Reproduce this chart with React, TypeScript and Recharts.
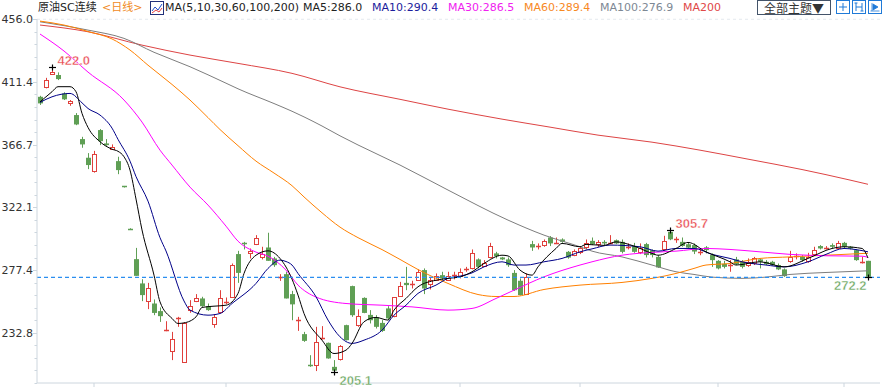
import { Bar, ComposedChart, Line, ReferenceDot, ReferenceLine, XAxis, YAxis } from 'recharts'

// daily candles, oldest first
const opens = [
  400.8, 407.9, 417.5, 416.3, 403.2, 396.1, 387.8, 370.7, 357.4, 347.4,
  377.1, 367.6, 364.0, 355.0, 337.0, 306.9, 285.2, 267.9, 255.3, 253.6,
  248.2, 234.4, 219.2, 242.8, 212.3, 248.9, 254.8, 257.2, 251.7, 238.4,
  246.9, 254.5, 258.4, 288.8, 296.4, 289.3, 295.7, 286.4, 293.5, 285.7,
  272.4, 274.5, 260.3, 241.4, 231.8, 209.6, 209.2, 229.0, 225.6, 208.5,
  213.8, 238.2, 266.0, 238.2, 257.6, 245.5, 243.7, 239.8, 250.1, 244.1,
  258.8, 268.3, 267.2, 270.8, 277.4, 267.4, 270.3, 273.8, 270.3, 273.6,
  273.1, 277.7, 278.6, 285.0, 280.2, 286.8, 289.3, 286.4, 285.0, 275.4,
  269.8, 260.3, 295.9, 294.3, 295.2, 300.6, 296.6, 299.2, 290.4, 288.4,
  290.4, 293.5, 298.2, 295.9, 297.5, 296.6, 298.7, 297.5, 293.8, 294.5,
  289.7, 295.9, 291.6, 286.8, 292.1, 304.6, 299.0, 297.5, 295.8, 295.2,
  290.0, 293.6, 288.1, 284.0, 281.9, 280.8, 285.0, 283.3, 281.0, 282.1,
  285.0, 283.3, 283.3, 281.0, 277.9, 283.3, 287.1, 286.8, 283.3, 288.8,
  294.5, 293.0, 295.2, 293.5, 296.8, 294.0, 291.6, 283.1, 284.0,
]
const highs = [
  401.5, 414.3, 422.0, 418.2, 404.0, 398.5, 389.2, 372.3, 360.7, 362.3,
  377.8, 370.7, 366.9, 358.1, 337.3, 307.2, 293.2, 270.9, 268.3, 256.5,
  250.8, 241.0, 233.4, 244.1, 240.2, 256.0, 260.3, 258.4, 253.6, 246.0,
  263.1, 257.9, 282.1, 291.1, 297.5, 292.8, 302.3, 294.0, 304.0, 286.8,
  274.5, 276.2, 262.6, 244.1, 233.4, 216.8, 237.0, 237.5, 225.8, 213.3,
  224.0, 238.5, 266.3, 249.4, 258.0, 248.9, 245.3, 241.8, 251.7, 258.2,
  269.0, 279.7, 269.8, 277.9, 278.6, 272.6, 275.0, 276.2, 276.2, 276.2,
  278.6, 279.7, 292.1, 285.7, 284.5, 296.8, 290.4, 286.8, 286.4, 277.4,
  271.5, 275.0, 298.2, 296.4, 299.2, 301.6, 300.6, 300.0, 291.0, 292.1,
  294.5, 299.2, 300.6, 298.7, 298.7, 302.3, 299.2, 299.2, 296.4, 296.8,
  296.4, 296.8, 292.1, 288.0, 301.8, 305.7, 301.1, 300.6, 296.8, 296.4,
  292.8, 294.5, 289.3, 284.5, 284.0, 284.5, 286.8, 284.5, 285.7, 286.8,
  285.7, 284.5, 284.0, 282.1, 278.6, 291.1, 289.3, 288.0, 289.7, 294.0,
  295.2, 294.5, 296.4, 298.2, 297.5, 294.5, 292.1, 286.8, 284.0,
]
const lows = [
  395.0, 406.8, 416.5, 412.7, 398.5, 394.4, 380.6, 364.5, 349.3, 346.8,
  366.4, 365.9, 363.3, 345.7, 336.2, 306.0, 273.3, 255.3, 249.6, 245.3,
  240.5, 233.9, 213.3, 237.0, 212.0, 247.0, 254.6, 251.2, 248.4, 236.3,
  246.5, 253.2, 257.9, 268.3, 292.1, 285.7, 295.2, 285.0, 284.0, 279.7,
  269.7, 257.2, 241.7, 234.1, 226.3, 208.5, 205.5, 228.0, 214.3, 205.1,
  213.0, 227.3, 244.1, 237.0, 246.7, 239.4, 235.8, 233.4, 241.8, 243.8,
  258.6, 263.1, 264.3, 269.8, 260.3, 263.6, 269.8, 269.8, 269.8, 270.8,
  271.5, 276.2, 277.9, 278.6, 279.7, 285.7, 285.7, 284.5, 279.7, 262.6,
  259.4, 259.6, 291.1, 292.1, 294.0, 294.5, 295.9, 296.8, 285.5, 287.3,
  288.8, 292.1, 295.2, 293.9, 295.2, 295.9, 295.9, 289.3, 292.1, 289.7,
  288.8, 286.4, 286.4, 279.0, 291.1, 298.7, 296.8, 294.0, 292.8, 288.8,
  288.0, 289.3, 279.7, 277.9, 278.6, 276.2, 281.0, 278.6, 279.7, 281.0,
  278.6, 281.0, 280.5, 277.4, 272.6, 282.6, 285.0, 283.3, 282.6, 288.0,
  292.1, 292.1, 292.8, 292.8, 292.8, 292.1, 284.0, 282.1, 272.2,
]
const closes = [
  396.1, 412.7, 418.6, 413.4, 399.0, 397.7, 381.1, 366.9, 352.2, 359.8,
  369.2, 366.4, 365.2, 348.6, 336.4, 306.3, 273.3, 259.6, 264.8, 246.9,
  244.6, 234.8, 228.0, 243.2, 239.8, 251.7, 257.2, 251.7, 248.9, 243.7,
  257.2, 255.0, 280.9, 275.4, 295.7, 290.9, 300.0, 288.8, 284.0, 280.9,
  272.8, 257.2, 253.0, 241.8, 227.0, 209.0, 225.9, 229.4, 214.5, 205.8,
  223.2, 227.5, 245.3, 244.8, 246.9, 241.7, 237.0, 234.1, 243.0, 257.9,
  266.0, 266.7, 267.6, 276.2, 264.3, 270.3, 273.1, 271.5, 273.1, 274.0,
  276.2, 278.1, 289.3, 279.7, 282.6, 294.5, 287.3, 285.0, 280.9, 263.1,
  259.6, 272.6, 293.5, 294.7, 298.2, 296.4, 297.0, 297.5, 286.3, 291.3,
  293.2, 296.4, 295.9, 297.5, 296.4, 297.0, 296.4, 290.4, 294.2, 290.4,
  292.8, 288.1, 288.1, 279.3, 298.1, 299.3, 299.4, 294.6, 293.4, 290.6,
  290.4, 291.6, 284.5, 278.6, 279.7, 281.2, 281.6, 279.7, 283.3, 285.7,
  283.3, 281.6, 281.0, 277.9, 273.1, 286.4, 287.5, 284.5, 286.4, 291.6,
  292.8, 293.4, 294.0, 296.8, 294.0, 292.8, 284.5, 283.5, 272.6,
]

// moving averages as [candle index, value]
const ma5Pts: [number, number][] = [
  [0, 397.2], [2, 404.4], [3, 408.0], [5, 408.0], [6, 404.4], [7, 389.0], [8, 379.0], [10, 368.8], [12, 363.5], [13, 362.0],
  [14, 358.1], [15, 348.6], [16, 328.0], [17, 306.0], [19, 273.8], [20, 254.8], [22, 243.0], [23, 239.4], [24, 239.8], [26, 244.1],
  [27, 250.8], [29, 251.7], [31, 252.4], [33, 260.8], [34, 275.0], [36, 288.0], [38, 291.1], [40, 285.7], [42, 271.0], [43, 259.6],
  [44, 246.5], [47, 227.5], [49, 218.0], [51, 220.4], [52, 225.2], [54, 240.6], [56, 243.7], [58, 241.8], [59, 248.9], [61, 257.2],
  [63, 265.5], [66, 270.2], [68, 271.5], [70, 272.6], [72, 276.2], [74, 282.1], [77, 288.0], [78, 287.5], [80, 277.4], [82, 273.8],
  [83, 279.7], [86, 292.8], [87, 296.4], [90, 294.0], [91, 295.7], [94, 295.0], [96, 297.5], [99, 294.5], [102, 289.3], [103, 288.0],
  [106, 292.8], [108, 297.1], [111, 290.4], [115, 283.3], [116, 281.0], [120, 283.3], [124, 279.7], [128, 285.7], [132, 292.8], [134, 294.0],
  [137, 292.8], [138, 286.0],
]
const ma10Pts: [number, number][] = [
  [0, 396.8], [2, 400.8], [5, 403.2], [7, 396.5], [8, 392.5], [10, 387.8], [12, 378.5], [13, 370.5], [15, 355.0], [16, 344.0],
  [18, 326.5], [20, 300.5], [21, 291.0], [24, 255.4], [25, 248.9], [28, 245.3], [30, 246.5], [32, 253.6], [36, 267.9], [38, 278.6],
  [40, 284.5], [41, 283.5], [42, 281.0], [43, 275.0], [46, 258.4], [48, 241.8], [50, 229.9], [52, 225.2], [54, 227.5], [57, 234.6],
  [59, 245.3], [61, 252.4], [63, 260.8], [66, 266.7], [68, 271.5], [70, 273.1], [72, 275.4], [74, 279.7], [77, 283.3], [79, 281.0],
  [81, 281.0], [84, 283.3], [87, 285.7], [90, 290.4], [92, 292.5], [95, 295.2], [100, 294.0], [103, 290.9], [106, 292.8], [109, 292.8],
  [112, 288.6], [115, 285.7], [117, 283.3], [121, 281.0], [124, 279.7], [128, 283.3], [131, 288.6], [134, 292.8], [136, 292.0], [138, 290.4],
]
const ma30Pts: [number, number][] = [
  [0, 445.5], [4, 433.4], [8, 418.4], [14, 398.5], [17, 382.8], [20, 362.8], [22, 352.2], [25, 336.5], [28, 323.7], [31, 308.7],
  [33, 298.0], [36, 290.2], [38, 287.3], [41, 277.4], [43, 266.7], [46, 258.2], [51, 253.6], [57, 252.4], [62, 251.2], [68, 248.9],
  [72, 250.1], [76, 257.2], [79, 263.1], [84, 272.6], [90, 281.0], [92, 283.3], [97, 288.0], [102, 290.0], [106, 290.9], [111, 292.8],
  [115, 292.1], [120, 290.4], [125, 288.6], [131, 287.6], [137, 287.3], [138, 286.5],
]
const ma60Pts: [number, number][] = [
  [0, 454.7], [4, 451.9], [8, 447.3], [12, 442.0], [15, 434.1], [18, 423.3], [22, 409.6], [25, 398.5], [28, 386.0], [30, 377.5],
  [33, 366.0], [36, 355.0], [39, 346.5], [42, 337.5], [44, 329.5], [47, 318.2], [50, 308.0], [53, 300.5], [57, 292.0], [60, 285.0],
  [63, 277.8], [68, 267.9], [73, 260.0], [76, 258.6], [79, 258.6], [84, 263.6], [90, 266.7], [97, 268.6], [102, 271.5], [106, 275.0],
  [109, 278.6], [111, 281.0], [115, 282.1], [120, 285.7], [125, 286.8], [131, 288.0], [138, 289.4],
]
const ma100Pts: [number, number][] = [
  [0, 454.2], [8, 448.3], [14, 442.4], [19, 432.5], [25, 422.2], [31, 410.5], [33, 406.5], [39, 396.0], [42, 390.5], [44, 386.5],
  [47, 380.0], [50, 373.0], [53, 366.5], [60, 352.2], [68, 334.4], [78, 313.0], [84, 302.3], [90, 294.0], [92, 290.9], [97, 286.8],
  [102, 281.0], [106, 276.2], [109, 274.3], [112, 272.4], [117, 271.5], [121, 272.4], [125, 274.3], [131, 275.7], [138, 276.9],
]
const ma200Pts: [number, number][] = [
  [0, 451.9], [8, 447.1], [17, 437.6], [25, 430.5], [33, 424.6], [42, 417.5], [50, 407.9], [60, 399.0], [68, 392.0], [77, 384.9],
  [85, 379.2], [93, 373.5], [102, 368.5], [110, 362.8], [118, 356.4], [127, 349.0], [135, 341.5], [138, 338.5],
]

const yTicks = [232.8, 277.4, 322.1, 366.7, 411.4, 456.0]
const monthTicks = [9, 31, 52, 70, 90, 113, 134]
const lastPrice = 272.2
const marks = [
  { i: 2, value: 422.0, kind: 'high' },
  { i: 49, value: 205.1, kind: 'low' },
  { i: 105, value: 305.7, kind: 'high' },
  { i: 138, value: 272.2, kind: 'lowEnd' },
]

const RED = '#e0403c'
const GREEN = '#5f9f55'
const AXIS = '#cdd6de'
const maLines = [
  { key: 'ma200', pts: ma200Pts, color: '#dd4444' },
  { key: 'ma100', pts: ma100Pts, color: '#7d7d7d' },
  { key: 'ma60', pts: ma60Pts, color: '#ff8000' },
  { key: 'ma30', pts: ma30Pts, color: '#ff00ff' },
  { key: 'ma10', pts: ma10Pts, color: '#000088' },
  { key: 'ma5', pts: ma5Pts, color: '#000000' },
]

const data = opens.map((open, i) => {
  const row: Record<string, any> = { i, open, high: highs[i], low: lows[i], close: closes[i], range: [lows[i], highs[i]] }
  maLines.forEach(m => { row[m.key] = null })
  return row
})
maLines.forEach(m => m.pts.forEach(([i, v]) => { data[i][m.key] = v }))

// five minor steps between labelled ticks, continued below the lowest label
const axisTicks: number[] = []
yTicks.forEach((t, k) => {
  const next = yTicks[k + 1]
  const step = ((next ?? t + (yTicks[1] - yTicks[0])) - t) / 5
  for (let j = 0; j < (next === undefined ? 1 : 5); j++) axisTicks.push(+(t + j * step).toFixed(3))
  if (k === 0) for (let j = 1; j <= 4; j++) axisTicks.push(+(t - j * step).toFixed(3))
})

const last = (pts: [number, number][]) => pts[pts.length - 1][1].toFixed(1)

function Candle(props: any) {
  const { x, y, width, height, payload } = props
  const { open, close, high, low } = payload
  const up = close >= open
  const color = up ? RED : GREEN
  const k = height / (high - low || 1)
  const py = (v: number) => y + (high - v) * k
  const cx = Math.floor(x + width / 2) + 0.5
  const top = py(Math.max(open, close))
  const bot = py(Math.min(open, close))
  const flat = bot - top < 1.5
  return <g>
    <line x1={cx} x2={cx} y1={py(high)} y2={py(low)} stroke={color} strokeWidth={1} />
    {flat
      ? <line x1={cx - 2.5} x2={cx + 2.5} y1={Math.round(top) + 0.5} y2={Math.round(top) + 0.5} stroke={color} strokeWidth={1.5} />
      : up
        ? <rect x={cx - 2} y={Math.round(top) + 0.5} width={4} height={Math.max(1, Math.round(bot - top))} fill="#fff" stroke={color} strokeWidth={1} />
        : <rect x={cx - 2.5} y={top} width={5} height={bot - top} fill={color} />}
  </g>
}

function YTick({ x, y, payload }: any) {
  const major = yTicks.find(t => Math.abs(t - payload.value) < 0.01)
  const yy = Math.round(y) + 0.5
  return <g>
    <line x1={x - (major !== undefined ? 4 : 2.5)} x2={x} y1={yy} y2={yy} stroke={AXIS} />
    {major !== undefined && <text x={x - 4} y={y + 4} textAnchor="end" fontSize={11} fontFamily="DejaVu Sans" fill="#333">{major.toFixed(1)}</text>}
  </g>
}

const NoLabel = () => <g />

function Mark({ cx, cy, mark }: any) {
  const high = mark.kind === 'high'
  const x = Math.round(cx) + 0.5
  const y = Math.round(cy) + 0.5
  return <g>
    <line x1={x - 3.5} x2={x + 3.5} y1={y} y2={y} stroke="#000" strokeWidth={1.2} />
    <line x1={x} x2={x} y1={y - 3} y2={y + 3} stroke="#000" strokeWidth={1.2} />
    <text x={mark.kind === 'lowEnd' ? x - 2 : x + 5} y={high ? y - 3 : y + 12.5} textAnchor={mark.kind === 'lowEnd' ? 'end' : 'start'}
      fontSize={13} fontWeight="bold" fontFamily="Liberation Sans" fill={high ? '#e8494d' : '#67a45c'} stroke="#fff" strokeWidth={0.4}>{mark.value.toFixed(1)}</text>
  </g>
}

const header = [
  { x: 38, text: '原油SC连续', color: '#222' },
  { x: 102, text: '<日线>', color: '#f08a24' },
  { x: 165, text: 'MA(5,10,30,60,100,200)', color: '#222' },
  { x: 303, text: `MA5:${last(ma5Pts)}`, color: '#222' },
  { x: 372, text: `MA10:${last(ma10Pts)}`, color: '#1c1c9c' },
  { x: 448, text: `MA30:${last(ma30Pts)}`, color: '#f020f0' },
  { x: 524, text: `MA60:${last(ma60Pts)}`, color: '#f7891f' },
  { x: 600, text: `MA100:${last(ma100Pts)}`, color: '#7d8894' },
  { x: 683, text: 'MA200', color: '#e04848' },
]

function IconBox({ x, children }: { x: number; children: any }) {
  return <svg style={{ position: 'absolute', left: x, top: 0 }} width={14} height={14}>
    <rect x={0.5} y={0.5} width={13} height={13} fill="#fff" stroke="#1f7ad8" />
    {children}
  </svg>
}

export default function App() {
  return <div style={{ position: 'absolute', left: 0, top: 0, width: 883, height: 387, background: '#fff', overflow: 'hidden' }}>
    <ComposedChart width={883} height={387} data={data} margin={{ top: 19, right: 3, bottom: 0, left: 0 }}>
      <XAxis dataKey="i" type="category" ticks={monthTicks} interval={0} height={4} tickSize={4} tick={<NoLabel />}
        padding={{ left: 0, right: 9 }} axisLine={{ stroke: AXIS }} tickLine={{ stroke: AXIS }} />
      <YAxis type="number" domain={[197, 456.2]} ticks={axisTicks} interval={0} width={37} tickSize={0} tickMargin={0}
        tick={<YTick />} tickLine={false} axisLine={{ stroke: AXIS }} allowDataOverflow />
      <ReferenceLine y={456.0} stroke="#e4e9ee" strokeDasharray="3 3" />
      <Bar dataKey="range" barSize={5} shape={<Candle />} isAnimationActive={false} />
      {maLines.map(m => <Line key={m.key} dataKey={m.key} stroke={m.color} strokeWidth={1} dot={false} activeDot={false}
        connectNulls type="monotone" isAnimationActive={false} />)}
      <ReferenceLine y={lastPrice} stroke="#2b8ef0" strokeDasharray="4 3" strokeWidth={1.2} />
      {marks.map(m => <ReferenceDot key={m.i} x={m.i} y={m.value} r={0} shape={(p: any) => <Mark {...p} mark={m} />} />)}
    </ComposedChart>

    {header.map(h => <span key={h.x} style={{ position: 'absolute', left: h.x, top: 0, lineHeight: '16px', fontSize: 11,
      fontFamily: '"DejaVu Sans", "Noto Sans CJK SC"', color: h.color, whiteSpace: 'nowrap' }}>{h.text}</span>)}
    <svg style={{ position: 'absolute', left: 150, top: 1 }} width={14} height={14}>
      <rect x={0.5} y={0.5} width={13} height={13} fill="#fff" stroke="#22307a" />
      <polyline points="2,10 5,6 8,9 12,3" fill="none" stroke="#2250c8" />
      <polyline points="2,12 6,9 9,11 12,7" fill="none" stroke="#e04040" />
    </svg>
    <div style={{ position: 'absolute', left: 757, top: 0, width: 72, height: 13, border: '1px solid #44546a', fontSize: 12, lineHeight: '13px',
      textAlign: 'center', fontFamily: '"Noto Sans CJK SC"', color: '#333' }}>全部主题▼</div>
    <IconBox x={836}>
      <path d="M7 3v2M7 9v2M3 7h2M9 7h2M6 6h2v2H6z" stroke="#1f7ad8" fill="none" />
    </IconBox>
    <IconBox x={852}>
      <path d="M4 3v8M10 3v8M4 7h6M2.5 3h3M8.5 11h3" stroke="#1f7ad8" fill="none" />
    </IconBox>
    <IconBox x={868}>
      <path d="M4 3v8M5 4l5 3-5 3z M2.5 11h9" stroke="#1f7ad8" fill="#1f7ad8" strokeWidth={0.8} />
    </IconBox>
  </div>
}
